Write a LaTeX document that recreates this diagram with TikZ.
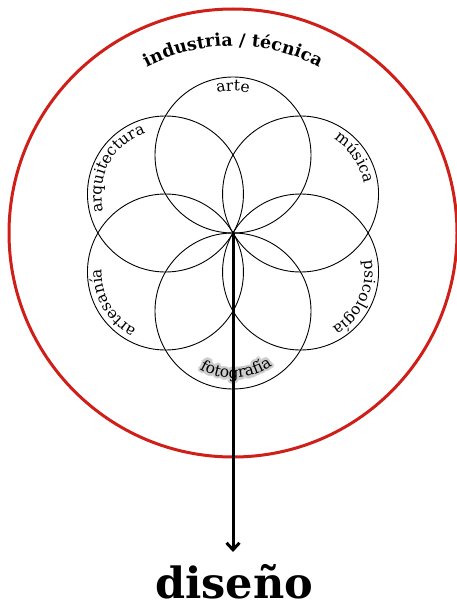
\documentclass[tikz,border=0pt]{standalone}
\usepackage{fontspec}
\setmainfont{DejaVu Serif}
\usetikzlibrary{decorations.text,arrows.meta}
\definecolor{rojo}{RGB}{206,32,24}
\begin{document}
\begin{tikzpicture}[x=1pt,y=1pt,line join=round,line cap=round]
	\useasboundingbox (0,0) rectangle (456,-604);
	\def\R{78}
	\def\r{64}
	\tikzset{vong/.style={draw=black,line width=0.9pt},
		nhan/.style={decorate,decoration={text along path,text align=center,text={#1}}},
		bong/.style={decorate,decoration={text along path,text align=center,text color=black!20,text={#1}}}}
	%%% vong do
	\coordinate (O) at (233,-233);
	\draw[rojo,line width=3pt] (O) circle (224);
	\path[nhan={|\bfseries\fontsize{17.5}{20}\selectfont|industria / técnica}] (O) ++(125:187) arc[start angle=125,end angle=55,radius=187];
	%%% sau vong tron
	\foreach \g/\ten in {90/arte,30/musica,-30/psico,-90/foto,-150/artes,150/arqui}
	\draw[vong] (O) ++(\g:\R) coordinate (\ten) circle (\R);
	%%% nhan
	\foreach \c/\g/\t in {arte/90/arte,musica/34/música,psico/-25/psicología,artes/210/artesanía,arqui/152/arquitectura}
	\path[nhan={|\fontsize{15.5}{18}\selectfont|\t}] (\c) ++(\g+75:\r) arc[start angle=\g+75,end angle=\g-75,radius=\r];
	\foreach \d in {0,30,...,330}
	\foreach \s in {1.2,2.4}
	\path[bong={|\fontsize{15.5}{18}\selectfont|fotografía}] ([shift={(\d:\s)}]foto) ++(-160:67) arc[start angle=-160,end angle=-14,radius=67];
	\path[nhan={|\fontsize{15.5}{18}\selectfont|fotografía}] (foto) ++(-160:67) arc[start angle=-160,end angle=-14,radius=67];
	%%% mui ten
	\node[font=\bfseries\fontsize{43}{43}\selectfont,inner sep=0pt] (diseno) at (234,-582) {diseño};
	\coordinate (F) at (233,-552);
	\draw[line width=3pt,-{Straight Barb[length=7pt,width=13pt]}] (O) -- (F);
\end{tikzpicture}
\end{document}
